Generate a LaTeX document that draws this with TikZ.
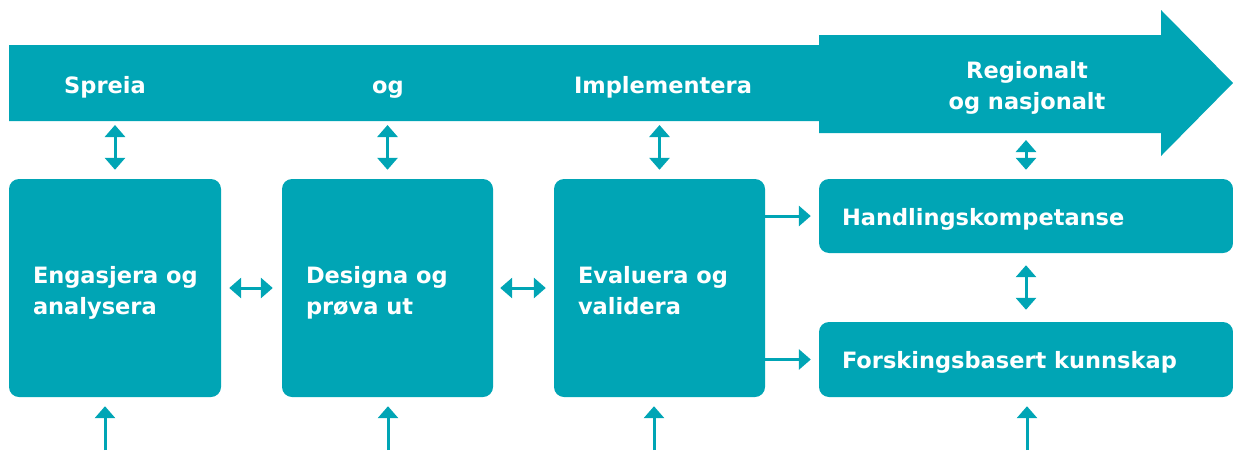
\documentclass[tikz,border=0pt]{standalone}
\usepackage{fontspec}
\setmainfont{DejaVu Sans}
\usetikzlibrary{arrows.meta}
\definecolor{teal}{HTML}{00A5B5}
\begin{document}
\begin{tikzpicture}[x=1pt,y=-1pt,
  box/.style={fill=teal, draw=none, rounded corners=10pt, inner sep=0pt},
  lbl/.style={text=white, font=\bfseries\fontsize{22.5}{31}\selectfont, align=left, anchor=base west, inner sep=0pt},
  toplbl/.style={text=white, font=\bfseries\fontsize{22.5}{31}\selectfont, align=center, anchor=base, inner sep=0pt},
  link/.style={draw=teal, line width=3pt, -{Triangle[width=20pt,length=12pt]}},
  dbl/.style={draw=teal, line width=3pt, {Triangle[width=20pt,length=12pt]}-{Triangle[width=20pt,length=12pt]}}]
\useasboundingbox (0,0) rectangle (1233,450);

% the wide band with its arrow head
\fill[teal] (9,45) -- (819,45) -- (819,35) -- (1161,35) -- (1161,10) -- (1233,83)
  -- (1161,156) -- (1161,133) -- (819,133) -- (819,121) -- (9,121) -- cycle;
\node[toplbl] at (105,93) {Spreia};
\node[toplbl] at (388,93) {og};
\node[toplbl] at (663,93) {Implementera};
% multi-line labels sit on the baseline of their last line
\node[toplbl] at (1027,109) {Regionalt\\og nasjonalt};

% process boxes
\node[box, minimum width=212pt, minimum height=218pt] (b1) at (115,288) {};
\node[box, minimum width=211pt, minimum height=218pt] (b2) at (387.5,288) {};
\node[box, minimum width=211pt, minimum height=218pt] (b3) at (659.5,288) {};
\node[box, minimum width=414pt, minimum height=74pt] (r1) at (1026,216) {};
\node[box, minimum width=414pt, minimum height=75pt] (r2) at (1026,359.5) {};

\node[lbl] at ([xshift=24pt,yshift=-26pt]b1.west) {Engasjera og\\analysera};
\node[lbl] at ([xshift=24pt,yshift=-26pt]b2.west) {Designa og\\prøva ut};
\node[lbl] at ([xshift=24pt,yshift=-26pt]b3.west) {Evaluera og\\validera};
\node[lbl] at ([xshift=23pt,yshift=-9pt]r1.west) {Handlingskompetanse};
\node[lbl] at ([xshift=23pt,yshift=-9pt]r2.west) {Forskingsbasert kunnskap};

% anchors on the band and at the lower edge
\coordinate (s1) at (115,121);
\coordinate (s2) at (387.5,121);
\coordinate (s3) at (659.5,121);
\coordinate (s4) at (1026,134);
\coordinate (i1) at (105,450);
\coordinate (i2) at (388,450);
\coordinate (i3) at (654,450);
\coordinate (i4) at (1027,450);

% band <-> boxes
\draw[dbl, shorten <=4pt, shorten >=9pt] (s1) -- (b1.north);
\draw[dbl, shorten <=4pt, shorten >=9pt] (s2) -- (b2.north);
\draw[dbl, shorten <=4pt, shorten >=9pt] (s3) -- (b3.north);
\draw[dbl, shorten <=6pt, shorten >=9pt] (s4) -- (r1.north);

% between boxes
\draw[dbl, shorten <=8pt, shorten >=9pt] (b1.east) -- (b2.west);
\draw[dbl, shorten <=7pt, shorten >=8pt] (b2.east) -- (b3.west);
\draw[dbl, shorten <=12pt, shorten >=12pt] (r1.south) -- (r2.north);
\draw[link, shorten >=8pt] (b3.east |- r1.west) -- (r1.west);
\draw[link, shorten >=8pt] (b3.east |- r2.west) -- (r2.west);

% inputs from below
\draw[link, shorten >=9pt] (i1) -- (i1 |- b1.south);
\draw[link, shorten >=9pt] (i2) -- (i2 |- b2.south);
\draw[link, shorten >=9pt] (i3) -- (i3 |- b3.south);
\draw[link, shorten >=9pt] (i4) -- (i4 |- r2.south);
\end{tikzpicture}
\end{document}
